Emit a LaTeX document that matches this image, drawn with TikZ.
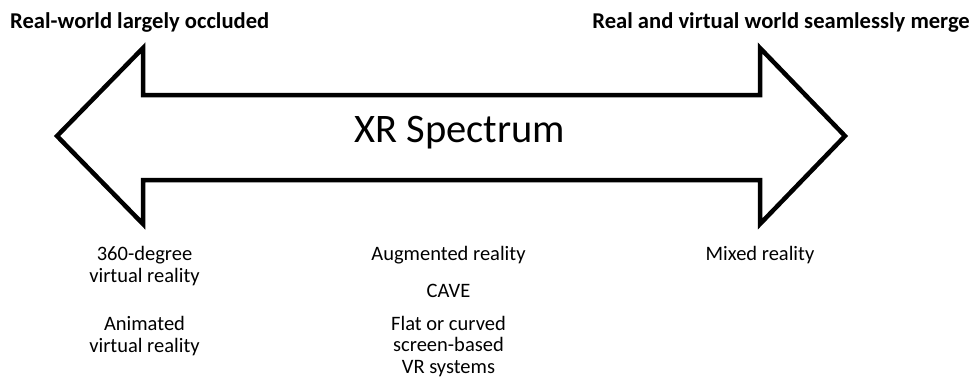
\documentclass[tikz,border=0pt]{standalone}
\usepackage{fontspec}
\setmainfont{Carlito}

\begin{document}
\begin{tikzpicture}[x=1pt,y=-1pt,
  headtext/.style={anchor=base,inner sep=0pt,font=\bfseries\fontsize{22.6}{27}\selectfont},
  spectext/.style={anchor=base,inner sep=0pt,align=center,font=\fontsize{20.5}{21.5}\selectfont}]
\useasboundingbox (0,0) rectangle (974,381);
% the double arrow
\draw[line width=4.5pt,line join=miter] (57,136) -- (143,48) -- (143,95) -- (760,95) -- (760,48)
  -- (845,136) -- (760,224) -- (760,180) -- (143,180) -- (143,224) -- cycle;
\node (title) [anchor=base,inner sep=0pt,font=\fontsize{40.5}{45}\selectfont] at (460,142) {XR Spectrum};
% the two ends
\node (left) [headtext,anchor=base west] at (10,28) {Real-world largely occluded};
\node (right) [headtext,anchor=base east] at (970,28) {Real and virtual world seamlessly merge};
% what lies along the spectrum (base = last line)
\node (vr360) [spectext] at (144.5,282) {360-degree\\virtual reality};
\node (anim) [spectext] at (144.5,352) {Animated\\virtual reality};
\node (ar) [spectext] at (448.5,260) {Augmented reality};
\node (cave) [spectext] at (448.5,297) {CAVE};
\node (screen) [spectext] at (448.5,373) {Flat or curved\\screen-based\\VR systems};
\node (mr) [spectext] at (760,260) {Mixed reality};
\end{tikzpicture}
\end{document}
